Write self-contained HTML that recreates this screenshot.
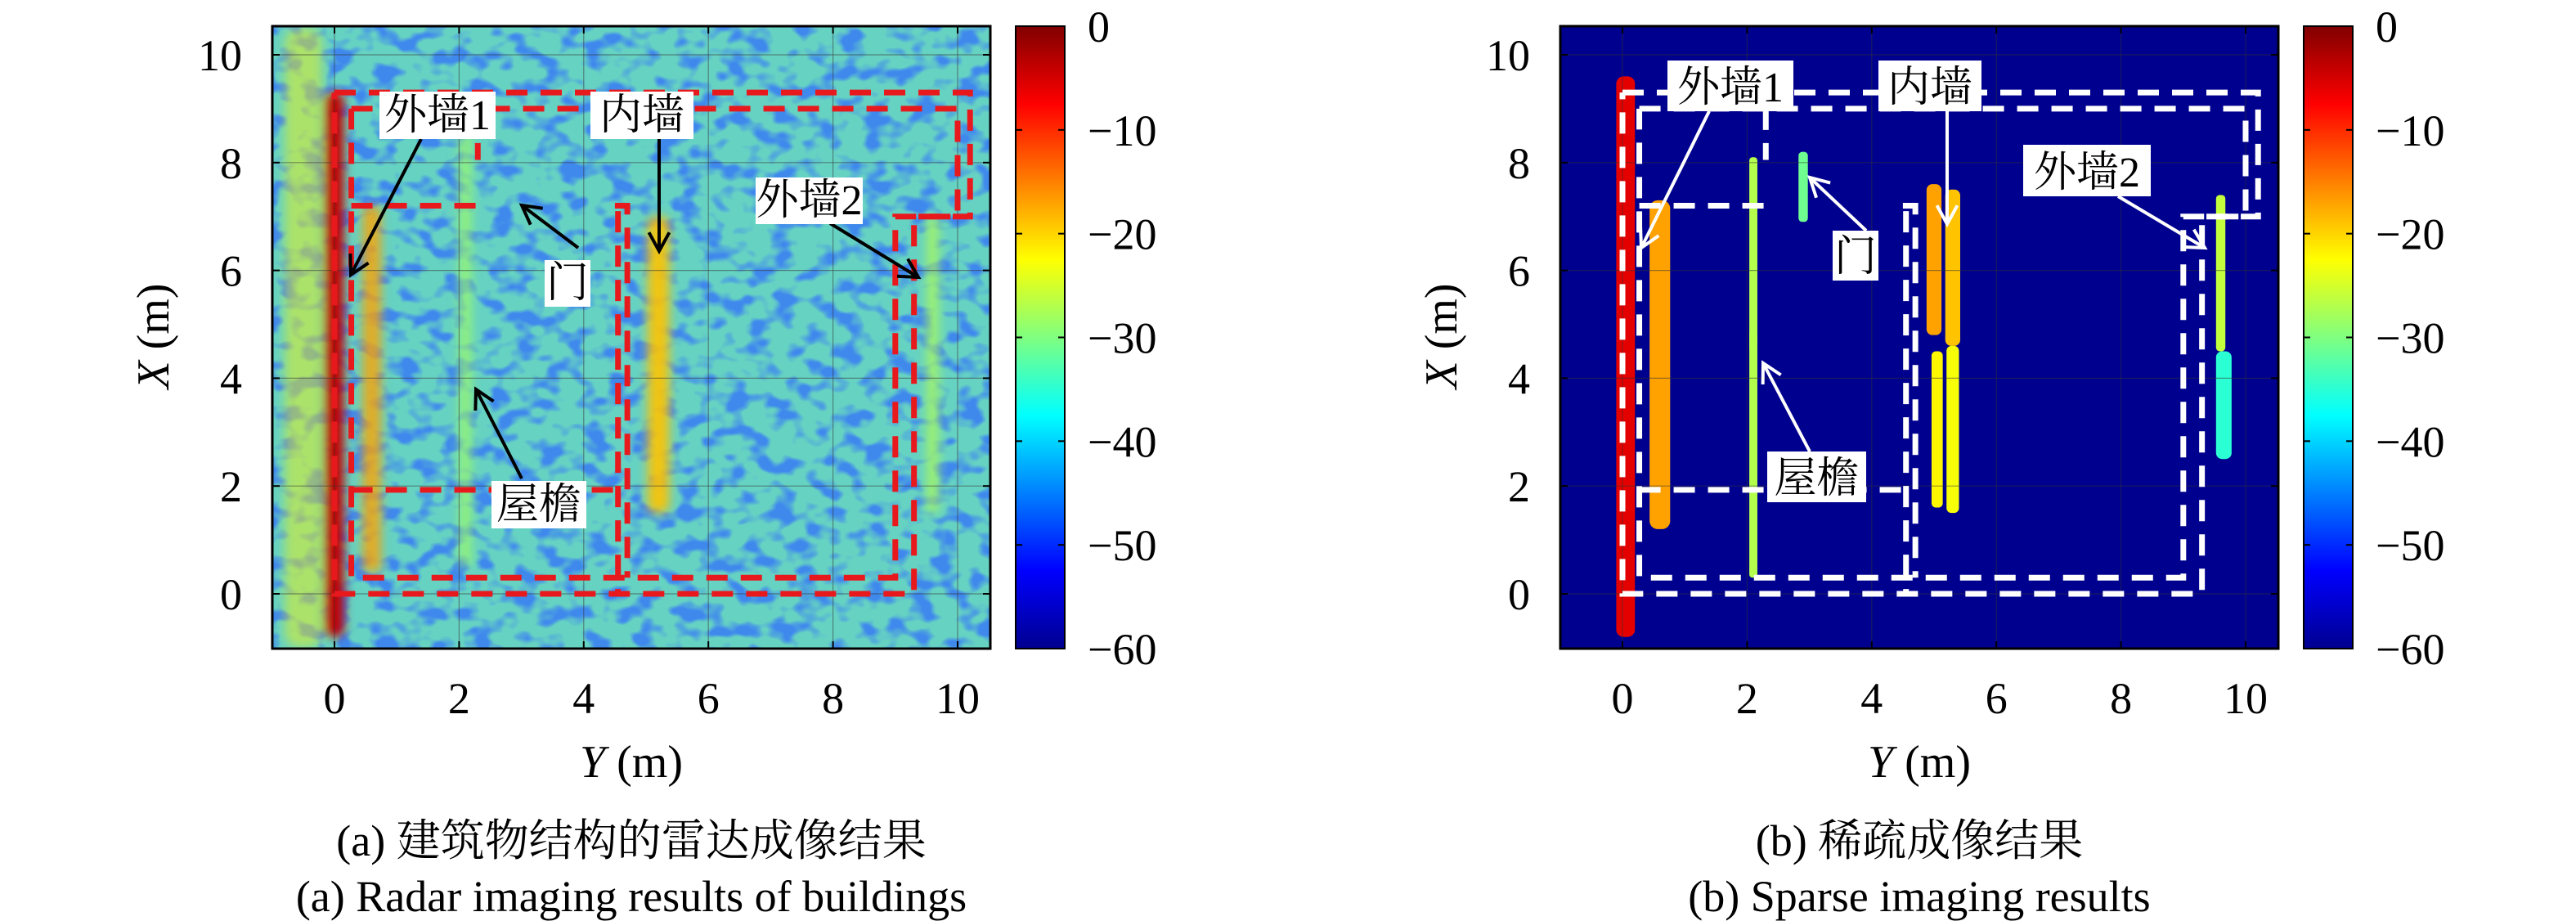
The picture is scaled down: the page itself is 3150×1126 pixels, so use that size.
<!DOCTYPE html>
<html><head><meta charset="utf-8"><style>
html,body{margin:0;padding:0;background:#fff;}
svg{display:block;}
text{font-family:"Liberation Serif","Noto Serif CJK SC",serif;}
</style></head>
<body>
<svg id="fig" width="3150" height="1126" viewBox="0 0 3150 1126" xmlns="http://www.w3.org/2000/svg">
<defs>
<linearGradient id="jet" x1="0" y1="1" x2="0" y2="0">
<stop offset="0" stop-color="#00008f"/><stop offset="0.125" stop-color="#0000ff"/>
<stop offset="0.375" stop-color="#00ffff"/><stop offset="0.625" stop-color="#ffff00"/>
<stop offset="0.875" stop-color="#ff0000"/><stop offset="1" stop-color="#800000"/>
</linearGradient>
<filter id="noise" x="0" y="0" width="100%" height="100%">
<feTurbulence type="fractalNoise" baseFrequency="0.035 0.05" numOctaves="2" seed="3"/>
<feColorMatrix type="matrix" values="0 0 0 0 0.05  0 0 0 0 0.25  0 0 0 0 0.85  0 0 0 -4.5 2.4"/>
</filter>
<filter id="blur"><feGaussianBlur stdDeviation="6"/></filter>
<clipPath id="clipL"><rect x="333" y="32" width="878" height="761"/></clipPath>
<clipPath id="clipR"><rect x="1908" y="32" width="878" height="761"/></clipPath>
</defs>
</svg>
<script>
// ---- data (dB) ----
const yTicks = [0, 2, 4, 6, 8, 10];
const xTicks = [0, 2, 4, 6, 8, 10];
const cbTicks = [0, -10, -20, -30, -40, -50, -60];
// panel (a) wall responses
const aWallY  = [-0.5, 0.0, 0.6, 2.1, 5.2, 9.6];
const aWallX0 = [-1.0, -0.8, 0.4, 0.5, 1.5, 1.5];
const aWallX1 = [10.5, 9.3, 7.2, 8.5, 7.0, 7.0];
const aWallDb = [-22, -4, -17, -28, -19, -27];
const aWallW  = [0.6, 0.3, 0.3, 0.2, 0.35, 0.2];
const aWallOp = [0.45, 1, 0.8, 0.7, 0.9, 0.7];
// panel (b) sparse responses
const bWallY  = [0.05, 0.6, 2.1, 2.1, 2.9, 5.0, 5.3, 5.05, 5.3, 9.6, 9.65];
const bWallX0 = [-0.8, 1.2, 4.5, 0.3, 6.9, 4.8, 4.6, 1.6, 1.5, 4.5, 2.5];
const bWallX1 = [9.6, 7.3, 8.1, 4.9, 8.2, 7.6, 7.5, 4.5, 4.6, 7.4, 4.5];
const bWallDb = [-6, -17, -27, -27, -31, -17, -19, -22, -23, -26, -35];
const bWallW  = [0.3, 0.33, 0.13, 0.13, 0.15, 0.24, 0.24, 0.18, 0.2, 0.15, 0.25];

const NS = "http://www.w3.org/2000/svg";
const svg = document.getElementById('fig');
function el(tag, attrs, parent, txt){const e=document.createElementNS(NS,tag);for(const k in attrs)e.setAttribute(k,attrs[k]);if(txt!==undefined)e.textContent=txt;(parent||svg).appendChild(e);return e;}
function jet(db){let v=(db+60)/60;v=Math.max(0,Math.min(1,v));
 const r=Math.max(0,Math.min(1,Math.min(4*v-1.5,-4*v+4.5))),g=Math.max(0,Math.min(1,Math.min(4*v-0.5,-4*v+3.5))),b=Math.max(0,Math.min(1,Math.min(4*v+0.5,-4*v+2.5)));
 return `rgb(${Math.round(r*255)},${Math.round(g*255)},${Math.round(b*255)})`;}

function panel(off, tag, wY, wX0, wX1, wDb, wW, wOp, dark, rectCol, labels, arrows, cap1, cap2){
 const sx=Y=>off+409+Y*76.2, sy=X=>726-X*65.9;
 const L=off+333,T=32,W=878,H=761;
 const g=el('g',{'clip-path':`url(#clip${tag})`});
 
 
 if(dark){el('rect',{x:L,y:T,width:W,height:H,fill:'#00008f'},g);}
 else{el('rect',{x:L,y:T,width:W,height:H,fill:'#66d2c2'},g);
      el('rect',{x:L,y:T,width:W,height:H,filter:'url(#noise)'},g);}
 const wg=el('g',dark?{}:{filter:'url(#blur)'},g);
 for(let i=0;i<wY.length;i++){
  const r=el('rect',{x:sx(wY[i]-wW[i]/2),y:sy(wX1[i]),width:wW[i]*76.2,height:(wX1[i]-wX0[i])*65.9,rx:wW[i]*30,fill:jet(wDb[i]),opacity:wOp?wOp[i]:1},wg);
  
  
 }
 for(const t of xTicks){el('line',{x1:sx(t),x2:sx(t),y1:T,y2:T+H,stroke:'#333',"stroke-width":1.2,opacity:0.5},g);}
 for(const t of yTicks){el('line',{x1:L,x2:L+W,y1:sy(t),y2:sy(t),stroke:'#333',"stroke-width":1.2,opacity:0.5},g);}
 const paths=[
  [[0,9.3],[10.2,9.3],[10.2,7.0],[9.3,7.0],[9.3,0],[0,0],[0,9.3]],
  [[0.27,9.0],[10.0,9.0],[10.0,7.0],[9.0,7.0],[9.0,0.3],[0.27,0.3],[0.27,9.0]],
  [[2.3,9.0],[2.3,8.05]],[[0.27,7.2],[2.4,7.2]],
  [[4.5,7.2],[4.7,7.2],[4.7,0.3]],[[4.55,7.1],[4.55,0]],
  [[0.27,1.93],[4.6,1.93]]
 ];
 for(const p of paths){el('polyline',{points:p.map(q=>sx(q[0])+','+sy(q[1])).join(' '),fill:'none',stroke:rectCol,'stroke-width':7,'stroke-dasharray':'26 16'},g);}
 const fr=el('rect',{x:L,y:T,width:W,height:H,fill:'none',stroke:'#000','stroke-width':3});
 
 
 for(const t of xTicks){
  el('line',{x1:sx(t),x2:sx(t),y1:T+H,y2:T+H-9,stroke:'#000','stroke-width':2});
  el('line',{x1:sx(t),x2:sx(t),y1:T,y2:T+9,stroke:'#000','stroke-width':2});
  const tx=el('text',{x:sx(t),y:872,'font-size':54,'text-anchor':'middle'},svg,String(t));
  
  
 }
 for(const t of yTicks){
  el('line',{x1:L,x2:L+9,y1:sy(t),y2:sy(t),stroke:'#000','stroke-width':2});
  el('line',{x1:L+W,x2:L+W-9,y1:sy(t),y2:sy(t),stroke:'#000','stroke-width':2});
  const tx=el('text',{x:off+296,y:sy(t)+19,'font-size':54,'text-anchor':'end'},svg,String(t));
  
  
 }
 const xt=el('text',{x:off+772,y:950,'font-size':56,'text-anchor':'middle'});
 
 
 el('tspan',{'font-style':'italic'},xt,'Y');el('tspan',{},xt,' (m)');
 const yt=el('text',{x:0,y:0,'font-size':56,'text-anchor':'middle',transform:`translate(${off+206},411) rotate(-90)`});
 
 
 el('tspan',{'font-style':'italic'},yt,'X');el('tspan',{},yt,' (m)');
 const cb=el('rect',{x:off+1242,y:T,width:60,height:H,fill:'url(#jet)',stroke:'#000','stroke-width':2});
 
 
 for(const t of cbTicks){const y=T+(-t/60)*H;
  el('line',{x1:off+1242,x2:off+1250,y1:y,y2:y,stroke:'#000','stroke-width':2});
  el('line',{x1:off+1302,x2:off+1294,y1:y,y2:y,stroke:'#000','stroke-width':2});
  const tx=el('text',{x:off+1330,y:y+19,'font-size':54},svg,(t<0?'\u2212':'')+Math.abs(t));
  
  
 }
 const ac=dark?'#fff':'#000';
 for(const a of arrows){const [x1,y1,x2,y2]=a;
  el('line',{x1:off+x1,y1:y1,x2:off+x2,y2:y2,stroke:ac,'stroke-width':4});
  const ang=Math.atan2(y2-y1,x2-x1),h=26;
  el('polyline',{points:`${off+x2-h*Math.cos(ang-0.5)},${y2-h*Math.sin(ang-0.5)} ${off+x2},${y2} ${off+x2-h*Math.cos(ang+0.5)},${y2-h*Math.sin(ang+0.5)}`,fill:'none',stroke:ac,'stroke-width':4});
 }
 for(const lb of labels){const [t,x0,y0,x1,y1]=lb;
  const gg=el('g',{});
  
  
  el('rect',{x:off+x0,y:y0,width:x1-x0,height:y1-y0,fill:'#fff'},gg);
  el('text',{x:off+(x0+x1)/2,y:y1-12,'font-size':52,'text-anchor':'middle'},gg,t);
 }
 const c1=el('text',{x:off+772,y:1046,'font-size':54,'text-anchor':'middle'},svg,cap1);
 
 
 const c2=el('text',{x:off+772,y:1114,'font-size':54,'text-anchor':'middle'},svg,cap2);
 
 
}
panel(0,'L',aWallY,aWallX0,aWallX1,aWallDb,aWallW,aWallOp,false,'#e8191d',
 [['外墙1',464,112,606,170],['内墙',722,112,848,170],['门',666,318,722,375],['外墙2',924,217,1055,274],['屋檐',601,588,717,646]],
 [[515,170,429,336],[806,170,806,307],[707,303,638,251],[1015,273,1123,339],[638,585,582,476]],
 '(a) 建筑物结构的雷达成像结果','(a) Radar imaging results of buildings');
panel(1575,'R',bWallY,bWallX0,bWallX1,bWallDb,bWallW,null,true,'#fff',
 [['外墙1',464,74,618,136],['内墙',722,74,848,136],['门',666,282,722,343],['外墙2',899,177,1055,240],['屋檐',586,552,707,614]],
 [[515,136,432,303],[806,136,806,274],[707,282,638,217],[1015,240,1121,303],[638,552,581,444]],
 '(b) 稀疏成像结果','(b) Sparse imaging results');
</script>
</body></html>
